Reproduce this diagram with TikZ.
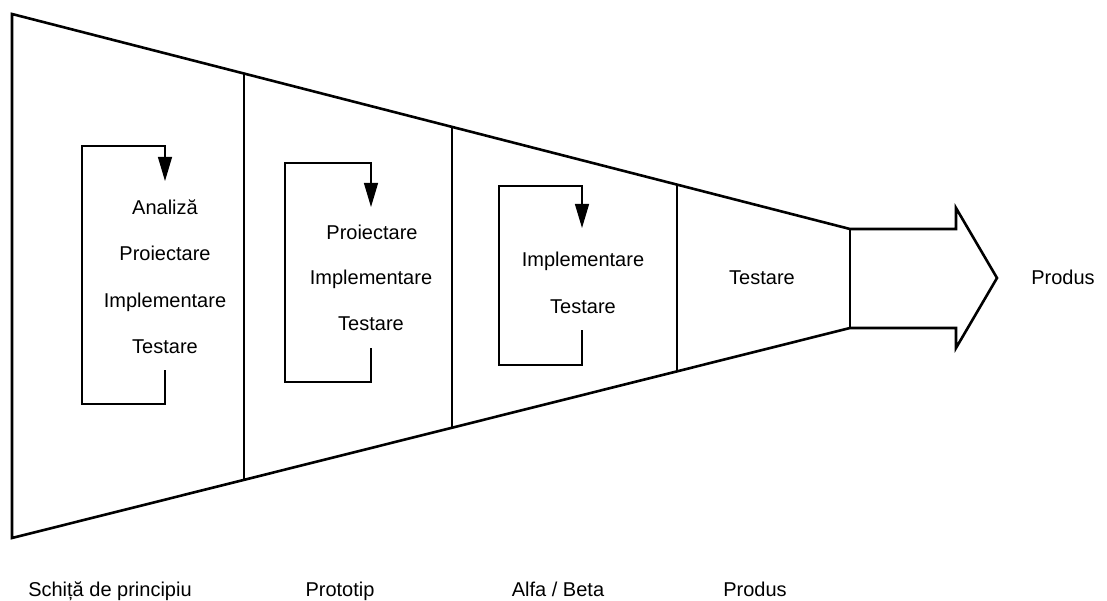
\documentclass[tikz,border=0pt]{standalone}
\usepackage{fontspec}
\setmainfont{Liberation Sans}
\usetikzlibrary{arrows.meta}
\tikzset{
  outline/.style={line width=2.6pt,line join=miter},
  divider/.style={line width=1.8pt},
  loopline/.style={line width=1.2pt,-{Triangle[length=24pt,width=14pt]}},
  lbl/.style={inner sep=0pt,anchor=base,font=\fontsize{20}{24}\selectfont},
}
\begin{document}
\begin{tikzpicture}[x=1pt,y=-1pt]
    \useasboundingbox (0,0) rectangle (1107,601);
    % funnel
    \coordinate (TL) at (12,14);
    \coordinate (BL) at (12,538);
    \coordinate (TR) at (850,229);
    \coordinate (BR) at (850,328);
    \draw [outline] (TL) -- (TR) -- (956,229) -- (956,208) -- (997,278)
        -- (956,348) -- (956,328) -- (BR) -- (BL) -- cycle;
    \draw [outline] (TR) -- (BR);

    \draw [divider] (244,73)  -- (244,480);
    \draw [divider,line width=2.4pt] (452,127) -- (452,429);
    \draw [divider] (677,185) -- (677,371);

    % texts
    \node [lbl] (A1) at (165,215) {Analiză};
    \node [lbl] (P1) at (165,261) {Proiectare};
    \node [lbl] (I1) at (165,307) {Implementare};
    \node [lbl] (T1) at (165,353) {Testare};

    \node [lbl] (P2) at (372,240) {Proiectare};
    \node [lbl] (I2) at (371,285) {Implementare};
    \node [lbl] (T2) at (371,330) {Testare};

    \node [lbl] (I3) at (583,267) {Implementare};
    \node [lbl] (T3) at (583,313) {Testare};

    \node [lbl] (T4) at (762,285) {Testare};
    \node [lbl] (out) at (1063,285) {Produs};

    \node [lbl] (S1) at (110,596) {Schiță de principiu};
    \node [lbl] (S2) at (340,596) {Prototip};
    \node [lbl] (S3) at (558,596) {Alfa / Beta};
    \node [lbl] (S4) at (755,596) {Produs};

    % loops
    \coordinate (s1) at (165,370);
    \coordinate (e1) at (165,181);
    \coordinate (s2) at (371,348);
    \coordinate (e2) at (371,207);
    \coordinate (s3) at (582,330);
    \coordinate (e3) at (582,228);
    \draw [loopline] (s1) |- (82,404) -- (82,146) -| (e1);
    \draw [loopline] (s2) |- (285,382) -- (285,163) -| (e2);
    \draw [loopline] (s3) |- (499,365) -- (499,186) -| (e3);
\end{tikzpicture}
\end{document}
